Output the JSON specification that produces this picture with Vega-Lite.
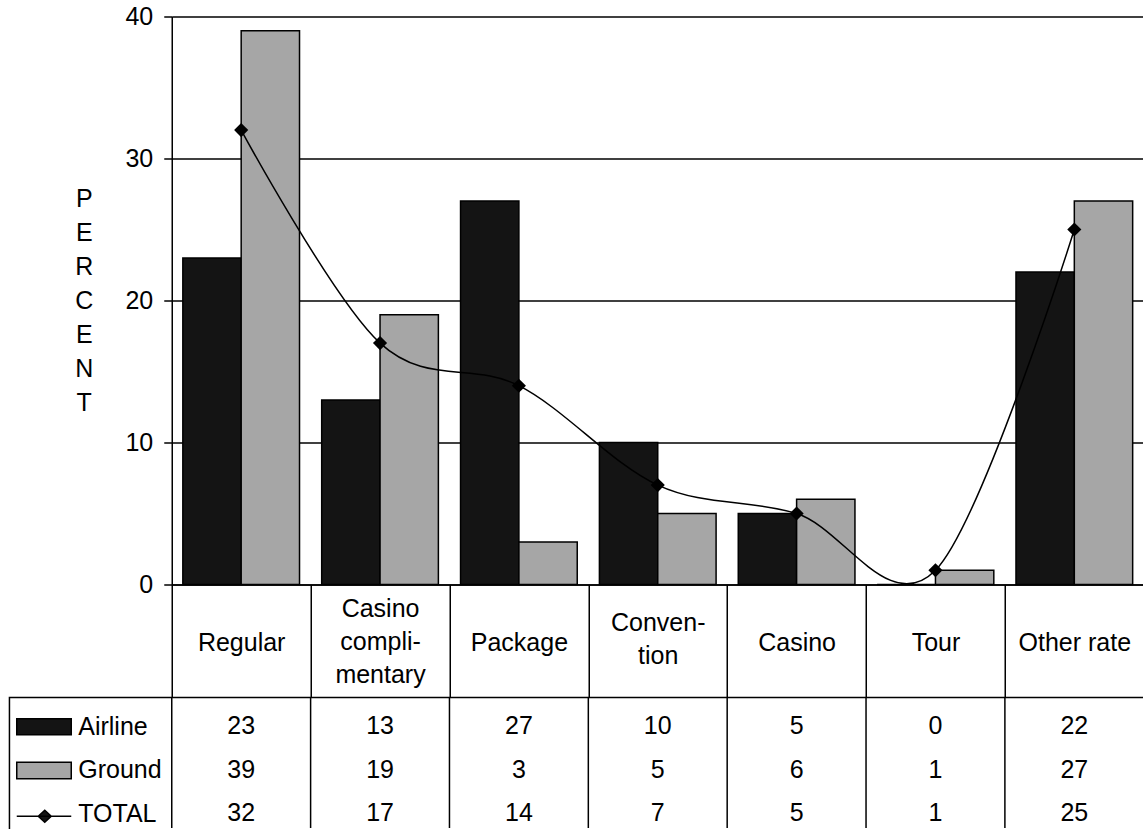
{
  "$schema": "https://vega.github.io/schema/vega-lite/v6.json",
  "padding": {"left": 5.75, "top": 4.5, "right": 0, "bottom": 0},
  "bounds": "flush",
  "spacing": 113,
  "config": {
    "font": "Liberation Sans",
    "view": {"stroke": null},
    "axis": {"labelFont": "Liberation Sans", "titleFont": "Liberation Sans", "labelColor": "#000", "titleColor": "#000", "labelFontSize": 25, "titleFontSize": 25, "titleFontWeight": "normal"},
    "text": {"font": "Liberation Sans"}
  },
  "datasets": {
    "t": [
      {"category": "Regular", "series": "Airline", "value": 23},
      {"category": "Casino complimentary", "series": "Airline", "value": 13},
      {"category": "Package", "series": "Airline", "value": 27},
      {"category": "Convention", "series": "Airline", "value": 10},
      {"category": "Casino", "series": "Airline", "value": 5},
      {"category": "Tour", "series": "Airline", "value": 0},
      {"category": "Other rate", "series": "Airline", "value": 22},
      {"category": "Regular", "series": "Ground", "value": 39},
      {"category": "Casino complimentary", "series": "Ground", "value": 19},
      {"category": "Package", "series": "Ground", "value": 3},
      {"category": "Convention", "series": "Ground", "value": 5},
      {"category": "Casino", "series": "Ground", "value": 6},
      {"category": "Tour", "series": "Ground", "value": 1},
      {"category": "Other rate", "series": "Ground", "value": 27},
      {"category": "Regular", "series": "TOTAL", "value": 32},
      {"category": "Casino complimentary", "series": "TOTAL", "value": 17},
      {"category": "Package", "series": "TOTAL", "value": 14},
      {"category": "Convention", "series": "TOTAL", "value": 7},
      {"category": "Casino", "series": "TOTAL", "value": 5},
      {"category": "Tour", "series": "TOTAL", "value": 1},
      {"category": "Other rate", "series": "TOTAL", "value": 25}
    ]
  },
  "vconcat": [
    {
      "width": 972,
      "height": 568,
      "data": {"name": "t"},
      "encoding": {
        "x": {
          "field": "category", "type": "nominal", "sort": null,
          "scale": {"domain": ["Regular", "Casino complimentary", "Package", "Convention", "Casino", "Tour", "Other rate"], "paddingInner": 0, "paddingOuter": 0},
          "axis": {
            "title": null, "orient": "bottom", "labelAngle": 0, "tickBand": "extent", "tickSize": 113,
            "tickColor": "#000", "tickWidth": 1.5, "domainColor": "#000", "domainWidth": 1.5,
            "labelBaseline": "middle", "labelLineHeight": 33, "labelLimit": 0, "grid": false,
            "labelPadding": {"condition": [{"test": "datum.value === 'Casino complimentary'", "value": -89}, {"test": "datum.value === 'Convention'", "value": -75}], "value": -55},
            "labelExpr": "datum.value === 'Casino complimentary' ? ['Casino','compli-','mentary'] : datum.value === 'Convention' ? ['Conven-','tion'] : datum.value"
          }
        }
      },
      "layer": [
        {
          "transform": [{"filter": "datum.series !== 'TOTAL'"}],
          "mark": {"type": "bar", "stroke": "#000", "strokeWidth": 1.5},
          "encoding": {
            "xOffset": {"field": "series", "type": "nominal", "scale": {"domain": ["Airline", "Ground"], "paddingInner": 0, "paddingOuter": 0.19}},
            "y": {
              "field": "value", "type": "quantitative",
              "scale": {"domain": [0, 40], "nice": false},
              "axis": {
                "title": ["P", "E", "R", "C", "E", "N", "T"], "titleAngle": 0, "titleAlign": "center", "titleBaseline": "middle",
                "titleLineHeight": 34, "titleX": -88, "titleY": 181.5,
                "values": [0, 10, 20, 30, 40], "grid": true, "gridColor": "#000", "gridWidth": 1.5, "gridOpacity": 1,
                "domainColor": "#000", "domainWidth": 1.5, "tickColor": "#000", "tickWidth": 1.5, "tickSize": 8, "labelPadding": 11
              }
            },
            "color": {"field": "series", "type": "nominal", "scale": {"domain": ["Airline", "Ground"], "range": ["#141414", "#a6a6a6"]}, "legend": null}
          }
        },
        {
          "transform": [{"filter": "datum.series === 'TOTAL'"}],
          "mark": {"type": "line", "interpolate": "cardinal", "color": "#000", "strokeWidth": 1.5},
          "encoding": {"y": {"field": "value", "type": "quantitative"}}
        },
        {
          "transform": [{"filter": "datum.series === 'TOTAL'"}],
          "mark": {"type": "point", "shape": "diamond", "filled": true, "color": "#000", "size": 200, "opacity": 1},
          "encoding": {"y": {"field": "value", "type": "quantitative"}}
        }
      ]
    },
    {
      "width": 972,
      "height": 130.5,
      "data": {"name": "t"},
      "layer": [
        {
          "transform": [{"filter": "datum.series === 'Airline'"}],
          "mark": {"type": "rule", "color": "#000", "strokeWidth": 1.5},
          "encoding": {
            "x": {"field": "category", "type": "nominal", "sort": null, "bandPosition": 0,
              "scale": {"domain": ["Regular", "Casino complimentary", "Package", "Convention", "Casino", "Tour", "Other rate"], "paddingInner": 0, "paddingOuter": 0}, "axis": null}
          }
        },
        {
          "mark": {"type": "text", "fontSize": 25, "color": "#000", "baseline": "middle", "dy": 7},
          "encoding": {
            "x": {"field": "category", "type": "nominal", "sort": null,
              "scale": {"domain": ["Regular", "Casino complimentary", "Package", "Convention", "Casino", "Tour", "Other rate"], "paddingInner": 0, "paddingOuter": 0}, "axis": null},
            "y": {"field": "series", "type": "nominal", "sort": null,
              "scale": {"domain": ["Airline", "Ground", "TOTAL"], "paddingInner": 0, "paddingOuter": 0},
              "axis": {"title": null, "orient": "left", "domain": false, "ticks": false, "grid": false, "labelAlign": "left", "labelBaseline": "middle", "labelPadding": 94, "labelOffset": 7}},
            "text": {"field": "value", "type": "quantitative"}
          }
        },
        {
          "transform": [{"filter": "datum.category === 'Regular'"}],
          "mark": {"type": "point", "filled": true, "size": 4, "stroke": "#000", "strokeWidth": 1.5, "opacity": 1},
          "encoding": {
            "x": {"field": "category", "type": "nominal", "sort": null, "bandPosition": 0,
              "scale": {"domain": ["Regular", "Casino complimentary", "Package", "Convention", "Casino", "Tour", "Other rate"], "paddingInner": 0, "paddingOuter": 0}, "axis": null},
            "y": {"field": "series", "type": "nominal", "sort": null},
            "shape": {"field": "series", "type": "nominal", "legend": null,
              "scale": {"domain": ["Airline", "Ground", "TOTAL"], "range": ["M-155,-0.5H-100.5V15.5H-155Z", "M-155,-0.5H-100.5V16H-155Z", "M-155,10H-100.5M-133.5,10L-127,4L-120.5,10L-127,16Z"]}},
            "color": {"field": "series", "type": "nominal", "legend": null,
              "scale": {"domain": ["Airline", "Ground", "TOTAL"], "range": ["#141414", "#a6a6a6", "#000000"]}}
          }
        },
        {
          "transform": [{"filter": "datum.category === 'Regular' && datum.series === 'Airline'"}],
          "mark": {"type": "point", "filled": false, "shape": "M-162.3,118.75V-21.75H972", "size": 4, "stroke": "#000", "strokeWidth": 1.5, "opacity": 1},
          "encoding": {
            "x": {"field": "category", "type": "nominal", "sort": null, "bandPosition": 0,
              "scale": {"domain": ["Regular", "Casino complimentary", "Package", "Convention", "Casino", "Tour", "Other rate"], "paddingInner": 0, "paddingOuter": 0}, "axis": null},
            "y": {"field": "series", "type": "nominal", "sort": null}
          }
        }
      ]
    }
  ]
}
